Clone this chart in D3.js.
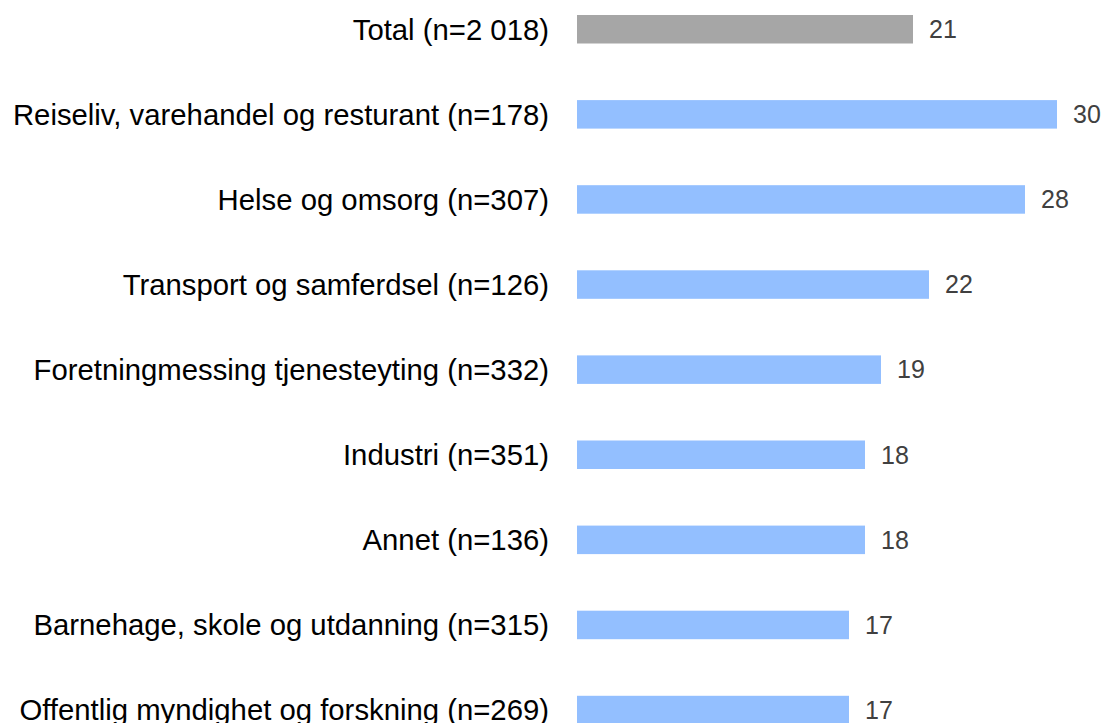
<!DOCTYPE html>
<html>
<head>
<meta charset="utf-8">
<script src="https://cdn.jsdelivr.net/npm/d3@7"></script>
<style>
  body { margin: 0; background: #fff; }
  svg { display: block; }
</style>
</head>
<body>
<svg id="chart"></svg>
<script>
// Data
const categories = [
  "Total (n=2 018)",
  "Reiseliv, varehandel og resturant (n=178)",
  "Helse og omsorg (n=307)",
  "Transport og samferdsel (n=126)",
  "Foretningmessing tjenesteyting (n=332)",
  "Industri (n=351)",
  "Annet (n=136)",
  "Barnehage, skole og utdanning (n=315)",
  "Offentlig myndighet og forskning (n=269)"
];
const values = [21, 30, 28, 22, 19, 18, 18, 17, 17];

// Set up SVG dimensions
const width = 1107;
const height = 723;

const svg = d3.select("#chart")
  .attr("width", width)
  .attr("height", height);

// X scale (value)
const x = d3.scaleLinear()
  .domain([0, 30])
  .range([577, 1057]);

// Y scale (categories)
const y = d3.scaleBand()
  .domain(categories)
  .range([-13.3, 752.6])
  .paddingInner(0.665)
  .paddingOuter(0.3325);

const rows = categories.map((c, i) => ({ cat: c, value: values[i], total: i === 0 }));

// Bars
svg.selectAll("rect")
  .data(rows)
  .enter().append("rect")
  .attr("x", x(0))
  .attr("y", d => y(d.cat))
  .attr("width", d => x(d.value) - x(0))
  .attr("height", y.bandwidth())
  .attr("fill", d => d.total ? "#a6a6a6" : "#93bfff");

// Category labels
svg.selectAll(".cat-label")
  .data(rows)
  .enter().append("text")
  .attr("class", "cat-label")
  .attr("x", 549)
  .attr("y", d => y(d.cat) + y.bandwidth() / 2)
  .attr("dy", "0.35em")
  .attr("text-anchor", "end")
  .style("font-family", "Liberation Sans, Arial, sans-serif")
  .style("font-size", "29.3px")
  .style("fill", "#000")
  .text(d => d.cat);

// Value labels
svg.selectAll(".val-label")
  .data(rows)
  .enter().append("text")
  .attr("class", "val-label")
  .attr("x", d => x(d.value) + 16)
  .attr("y", d => y(d.cat) + y.bandwidth() / 2)
  .attr("dy", "0.35em")
  .style("font-family", "Liberation Sans, Arial, sans-serif")
  .style("font-size", "25px")
  .style("fill", "#404040")
  .text(d => d.value);
</script>
</body>
</html>
